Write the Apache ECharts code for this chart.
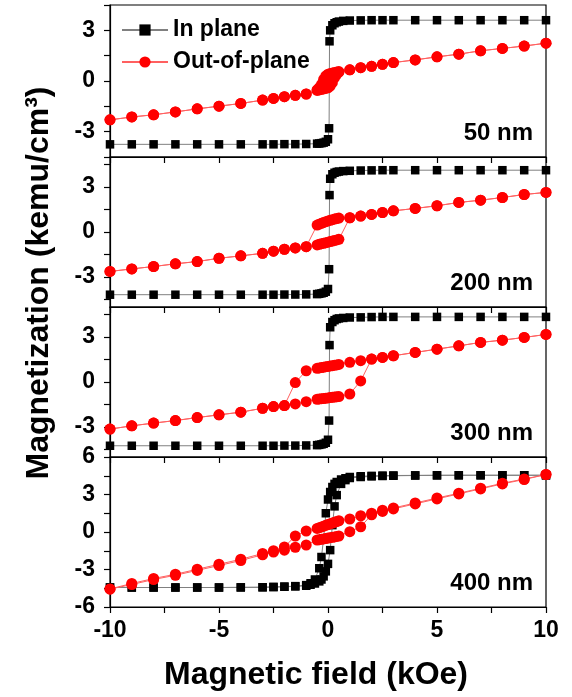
<!DOCTYPE html>
<html>
<head>
<meta charset="utf-8">
<script src="https://cdn.jsdelivr.net/npm/echarts@6/dist/echarts.min.js"></script>
<style>
  html, body { margin: 0; padding: 0; background: #fff; }
  #chart { width: 572px; height: 697px; }
</style>
</head>
<body>
<div id="chart"></div>
<script>
// field sweeps (kOe)
const fieldDown = [10, 9, 8, 7, 6, 5, 4, 3, 2.5, 2, 1.5, 1,
  0.5, 0.4, 0.3, 0.2, 0.1, 0, -0.1, -0.2, -0.3, -0.4, -0.5,
  -1, -1.5, -2, -2.5, -3, -4, -5, -6, -7, -8, -9, -10];
const fieldUp = fieldDown.slice().reverse();
const ipField = [-10, -9, -8, -7, -6, -5, -4, -3, -2.5, -2, -1.5, -1,
  -0.5, -0.4, -0.3, -0.2, -0.1, 0, 0.05, 0.07, 0.1, 0.2, 0.3, 0.4, 0.5, 0.7,
  1, 1.5, 2, 2.5, 3, 4, 5, 6, 7, 8, 9, 10];
const ip4Down = [10, 9, 8, 7, 6, 5, 4, 3, 2.5, 2, 1.5, 1,
  0.8, 0.6, 0.4, 0.3, 0.2, 0.1, 0, -0.1, -0.2, -0.3, -0.4, -0.6, -0.8,
  -1, -1.5, -2, -2.5, -3, -4, -5, -6, -7, -8, -9, -10];
const ip4Up = ip4Down.slice().reverse();

const thickness = ['50 nm', '200 nm', '300 nm', '400 nm'];
const xTicks = [-10, -5, 0, 5, 10];

// in plane magnetization (kemu/cm3)
const ip50 = [-3.75, -3.75, -3.75, -3.75, -3.75, -3.75, -3.75, -3.75, -3.75, -3.74, -3.74, -3.73,
  -3.71, -3.7, -3.68, -3.65, -3.6, -3.45, -2.8, 2.35, 3.0, 3.3, 3.42, 3.48, 3.52, 3.56,
  3.58, 3.59, 3.6, 3.6, 3.6, 3.6, 3.6, 3.6, 3.6, 3.6, 3.6, 3.6];
const ip200 = [-4.18, -4.18, -4.18, -4.18, -4.18, -4.18, -4.18, -4.18, -4.18, -4.17, -4.17, -4.16,
  -4.14, -4.12, -4.09, -4.05, -3.98, -3.8, -2.48, 2.46, 3.55, 3.85, 3.95, 4.0, 4.03, 4.06,
  4.08, 4.1, 4.11, 4.12, 4.12, 4.12, 4.12, 4.12, 4.12, 4.12, 4.12, 4.12];
const ip300 = [-4.25, -4.25, -4.25, -4.25, -4.25, -4.25, -4.25, -4.25, -4.25, -4.24, -4.24, -4.23,
  -4.21, -4.19, -4.16, -4.12, -4.05, -3.85, -2.57, 2.46, 3.65, 4.0, 4.12, 4.2, 4.24, 4.27,
  4.3, 4.31, 4.33, 4.34, 4.34, 4.34, 4.34, 4.34, 4.34, 4.34, 4.34, 4.34];
const ip400Down = [4.54, 4.54, 4.54, 4.54, 4.54, 4.54, 4.53, 4.52, 4.51, 4.49, 4.46, 4.4,
  4.3, 4.2, 4.0, 3.85, 3.6, 3.2, 2.6, 1.5, -0.5, -2.0, -2.9, -3.8, -4.1,
  -4.25, -4.33, -4.37, -4.4, -4.42, -4.43, -4.44, -4.44, -4.44, -4.44, -4.44, -4.44];
const ip400Up = [-4.44, -4.44, -4.44, -4.44, -4.44, -4.44, -4.43, -4.42, -4.4, -4.38, -4.35, -4.3,
  -4.22, -4.12, -3.95, -3.8, -3.55, -3.15, -2.55, -1.45, 0.55, 2.05, 2.95, 3.85, 4.15,
  4.32, 4.4, 4.45, 4.48, 4.5, 4.52, 4.53, 4.54, 4.54, 4.54, 4.54, 4.54];

// out-of-plane magnetization (kemu/cm3)
const oop50Down = [2.24, 2.07, 1.93, 1.79, 1.59, 1.43, 1.25, 1.09, 0.99, 0.87, 0.79, 0.66,
  0.56, 0.53, 0.5, 0.47, 0.44, 0.4, 0.3, 0.1, -0.2, -0.4, -0.52,
  -0.77, -0.85, -0.93, -1.03, -1.13, -1.33, -1.49, -1.65, -1.83, -2.0, -2.13, -2.3];
const oop50Up = [-2.3, -2.13, -2.0, -1.83, -1.65, -1.49, -1.33, -1.13, -1.03, -0.93, -0.85, -0.77,
  -0.56, -0.53, -0.5, -0.47, -0.44, -0.4, -0.3, -0.1, 0.2, 0.4, 0.52,
  0.66, 0.79, 0.87, 0.99, 1.09, 1.25, 1.43, 1.59, 1.79, 1.93, 2.07, 2.24];
const oop200Down = [2.64, 2.5, 2.3, 2.12, 1.97, 1.75, 1.57, 1.41, 1.3, 1.17, 1.06, 0.95,
  0.93, 0.9, 0.86, 0.82, 0.78, 0.74, 0.69, 0.64, 0.58, 0.52, 0.46,
  -0.98, -1.06, -1.15, -1.28, -1.42, -1.59, -1.75, -1.97, -2.12, -2.3, -2.46, -2.63];
const oop200Up = [-2.63, -2.46, -2.3, -2.12, -1.97, -1.75, -1.59, -1.42, -1.28, -1.15, -1.06, -0.98,
  -0.86, -0.82, -0.78, -0.75, -0.71, -0.68, -0.64, -0.6, -0.56, -0.53, -0.49,
  0.95, 1.06, 1.17, 1.3, 1.41, 1.57, 1.75, 1.97, 2.12, 2.3, 2.5, 2.64];
const oop300Down = [3.17, 2.97, 2.79, 2.64, 2.41, 2.19, 1.97, 1.75, 1.64, 1.53, 1.42, 1.31,
  1.17, 1.14, 1.12, 1.09, 1.07, 1.04, 1.02, 0.99, 0.96, 0.94, 0.91,
  0.75, -0.04, -1.57, -1.64, -1.75, -2.01, -2.19, -2.37, -2.57, -2.74, -2.92, -3.14];
const oop300Up = [-3.14, -2.92, -2.74, -2.57, -2.37, -2.19, -2.01, -1.75, -1.64, -1.57, -1.46, -1.31,
  -1.15, -1.13, -1.11, -1.1, -1.08, -1.06, -1.04, -1.02, -1.0, -0.99, -0.97,
  -0.8, 0.07, 1.53, 1.64, 1.75, 1.97, 2.19, 2.41, 2.64, 2.79, 2.97, 3.17];
const oop400Down = [4.6, 4.24, 3.9, 3.5, 3.1, 2.72, 2.32, 1.92, 1.74, 1.5, 1.3, 1.04,
  0.9, 0.84, 0.78, 0.72, 0.66, 0.6, 0.54, 0.47, 0.41, 0.35, 0.29,
  0.08, -0.32, -1.2, -1.5, -1.72, -2.18, -2.58, -2.98, -3.38, -3.72, -4.12, -4.55];
const oop400Up = [-4.57, -4.2, -3.8, -3.46, -3.07, -2.68, -2.28, -1.82, -1.6, -1.45, -1.22, -1.04,
  -0.64, -0.61, -0.58, -0.55, -0.52, -0.48, -0.45, -0.42, -0.39, -0.35, -0.32,
  0.03, 0.42, 1.38, 1.65, 1.85, 2.25, 2.65, 3.05, 3.45, 3.85, 4.2, 4.6];

const yRanges = [[-4.5, 4.5], [-5, 5], [-5, 5], [-6, 6]];
const yLabels = [[-3, 0, 3], [-3, 0, 3], [-3, 0, 3], [-6, -3, 0, 3, 6]];
const yTicks = [[-4.5, -3, -1.5, 0, 1.5, 3, 4.5], [-4.5, -3, -1.5, 0, 1.5, 3, 4.5],
  [-4.5, -3, -1.5, 0, 1.5, 3, 4.5], [-6, -4.5, -3, -1.5, 0, 1.5, 3, 4.5, 6]];

const zip = (xs, ys) => xs.map((x, i) => [x, ys[i]]);

const font = '"Liberation Sans", Arial, sans-serif';
const gridTops = [5, 157, 307, 457];
const gridHeights = [152, 150, 150, 150];

const ipCurves = [
  [zip(ipField, ip50)],
  [zip(ipField, ip200)],
  [zip(ipField, ip300)],
  [zip(ip4Down, ip400Down), zip(ip4Up, ip400Up)]
];
const oopCurves = [
  [zip(fieldDown, oop50Down), zip(fieldUp, oop50Up)],
  [zip(fieldDown, oop200Down), zip(fieldUp, oop200Up)],
  [zip(fieldDown, oop300Down), zip(fieldUp, oop300Up)],
  [zip(fieldDown, oop400Down), zip(fieldUp, oop400Up)]
];

const grids = [], xAxes = [], yAxes = [], series = [], labels = [];
for (let i = 0; i < 4; i++) {
  grids.push({ left: 110, right: 26, top: gridTops[i], height: gridHeights[i],
    show: true, borderColor: '#000', borderWidth: 1.2, backgroundColor: 'transparent' });
  xAxes.push({
    type: 'value', gridIndex: i, min: -10, max: 10, interval: 2.5,
    axisLine: { onZero: false, lineStyle: { color: '#000', width: 1.2 } },
    axisTick: { length: 6, lineStyle: { color: '#000', width: 1.2 } },
    axisLabel: {
      show: i === 3, margin: 12, color: '#000', fontSize: 23, fontWeight: 'bold', fontFamily: font,
      formatter: v => xTicks.indexOf(v) >= 0 ? String(v) : ''
    },
    splitLine: { show: false }
  });
  yAxes.push({
    type: 'value', gridIndex: i, min: yRanges[i][0], max: yRanges[i][1],
    axisLine: { onZero: false, lineStyle: { color: '#000', width: 1.2 } },
    axisTick: { length: 6, customValues: yTicks[i], lineStyle: { color: '#000', width: 1.2 } },
    axisLabel: { customValues: yLabels[i], margin: 15, color: '#000', fontSize: 23,
      fontWeight: 'bold', fontFamily: font },
    splitLine: { show: false }
  });
  ipCurves[i].forEach(d => series.push({
    type: 'line', name: 'In plane', xAxisIndex: i, yAxisIndex: i, data: d,
    symbol: 'rect', symbolSize: 8.5, showAllSymbol: true, z: 2,
    itemStyle: { color: '#000' }, lineStyle: { color: '#808080', width: 1 }
  }));
  oopCurves[i].forEach(d => series.push({
    type: 'line', name: 'Out-of-plane', xAxisIndex: i, yAxisIndex: i, data: d,
    symbol: 'circle', symbolSize: 11, showAllSymbol: true, z: 3,
    itemStyle: { color: '#ff0000' }, lineStyle: { color: '#ff6060', width: 1 }
  }));
  labels.push({
    type: 'text', right: 39, top: gridTops[i] + gridHeights[i] - 36,
    style: { text: thickness[i], fill: '#000', font: 'bold 24px ' + font }
  });
}

const chart = echarts.init(document.getElementById('chart'));
chart.setOption({
  animation: false,
  backgroundColor: '#fff',
  grid: grids,
  xAxis: xAxes,
  yAxis: yAxes,
  series: series,
  legend: {
    data: ['In plane', 'Out-of-plane'], orient: 'vertical', left: 116, top: 12,
    itemWidth: 46, itemHeight: 14, itemGap: 6,
    textStyle: { fontSize: 23, fontWeight: 'bold', fontFamily: font, color: '#000', lineHeight: 26 }
  },
  graphic: labels.concat([
    {
      type: 'text', x: 39, y: 283, rotation: Math.PI / 2,
      style: { text: 'Magnetization (kemu/cm³)', fill: '#000', font: 'bold 32px ' + font,
        align: 'center', verticalAlign: 'middle' }
    },
    {
      type: 'text', x: 316, y: 675,
      style: { text: 'Magnetic field (kOe)', fill: '#000', font: 'bold 32px ' + font,
        align: 'center', verticalAlign: 'middle' }
    }
  ])
});
</script>
</body>
</html>
